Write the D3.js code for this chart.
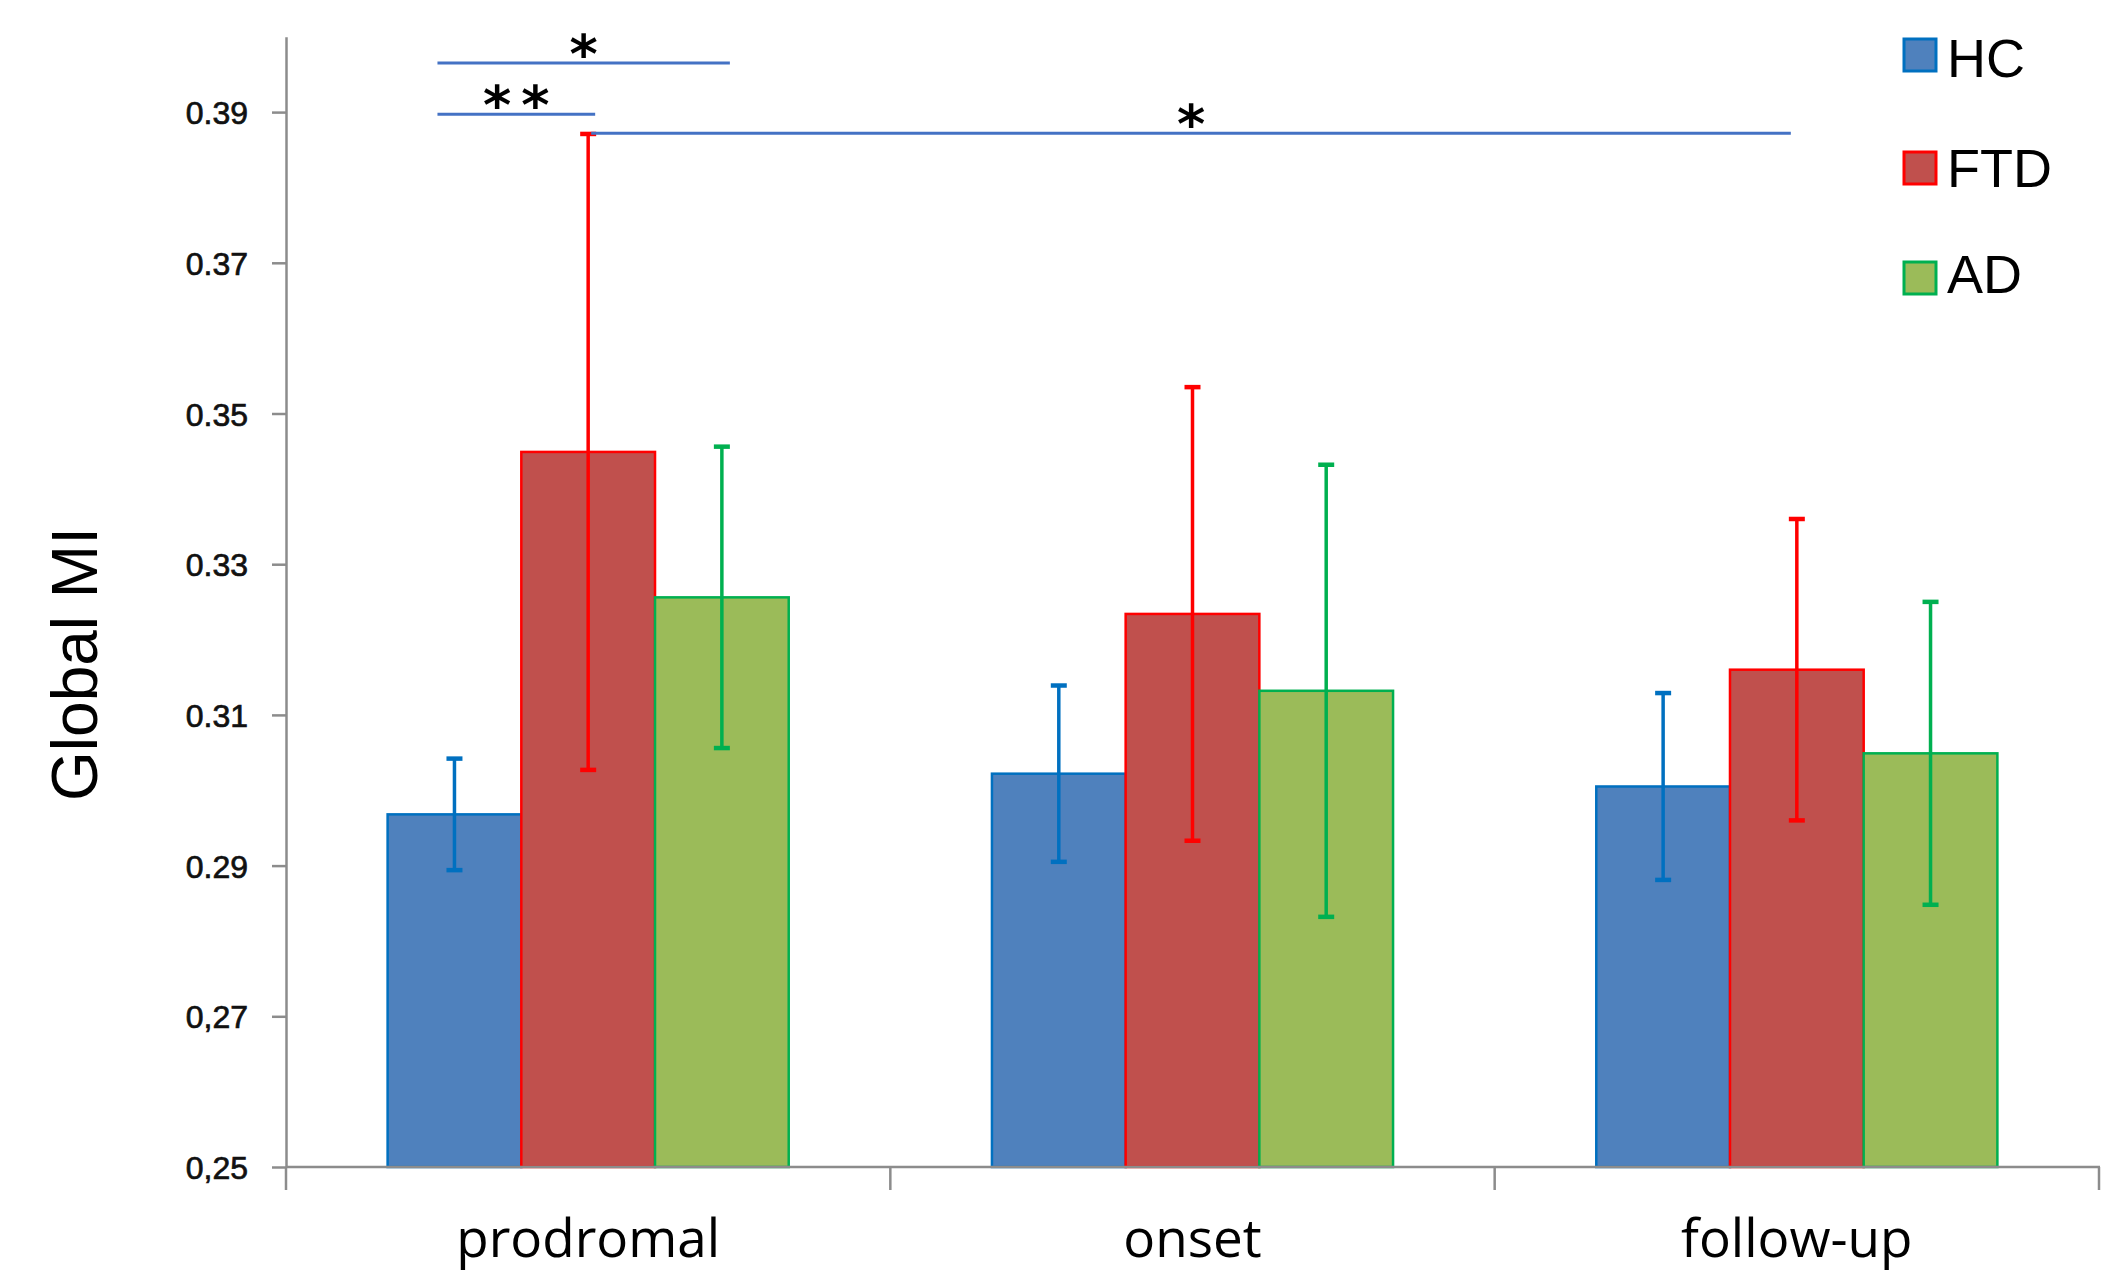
<!DOCTYPE html>
<html>
<head>
<meta charset="utf-8">
<script src="https://cdn.jsdelivr.net/npm/d3@7"></script>
<style>
  html, body { margin: 0; padding: 0; background: #ffffff; }
  svg { display: block; }
</style>
</head>
<body>
<svg id="chart" width="2114" height="1272"></svg>
<script>
// ---------------- data ----------------
const categories = ["prodromal", "onset", "follow-up"];
const groups = ["HC", "FTD", "AD"];

const hcMean  = [0.2968, 0.3022, 0.3005];
const hcErr   = [0.0074, 0.0117, 0.0124];
const ftdMean = [0.3449, 0.3234, 0.3160];
const ftdErr  = [0.0422, 0.0301, 0.0200];
const adMean  = [0.3256, 0.3132, 0.3049];
const adErr   = [0.0200, 0.0300, 0.0201];

const yTickValues = [0.25, 0.27, 0.29, 0.31, 0.33, 0.35, 0.37, 0.39];
const yTickLabels = ["0,25", "0,27", "0.29", "0.31", "0.33", "0.35", "0.37", "0.39"];

const yLabel = "Global MI";

// significance brackets
const sigFromCat   = ["prodromal", "prodromal", "prodromal"];
const sigFromGroup = ["HC", "HC", "FTD"];
const sigToCat     = ["prodromal", "prodromal", "follow-up"];
const sigToGroup   = ["AD", "FTD", "FTD"];
const sigLevel     = [0.3965, 0.3897, 0.3872];
const sigText      = ["*", "**", "*"];

// ---------------- styles ----------------
const fillColors   = { HC: "#4F81BD", FTD: "#C0504D", AD: "#9BBB59" };
const strokeColors = { HC: "#0070C0", FTD: "#FF0000", AD: "#00B050" };

const means = { HC: hcMean, FTD: ftdMean, AD: adMean };
const errs  = { HC: hcErr,  FTD: ftdErr,  AD: adErr };

const rows = [];
categories.forEach((c, i) => {
  groups.forEach(g => rows.push({ cat: c, group: g, mean: means[g][i], err: errs[g][i] }));
});

// ---------------- layout ----------------
const svg = d3.select("#chart");
const axisX0 = 286, axisX1 = 2099, axisY = 1167;

const y = d3.scaleLinear().domain([0.25, 0.40]).range([axisY, axisY - 0.15 * 7535]);
const x0 = d3.scaleBand().domain(categories).range([axisX0, axisX1]).padding(0);
const x1 = d3.scaleBand().domain(groups).range([0, x0.bandwidth()]).paddingInner(0).paddingOuter(0.76);

const axisColor = "#8c8c8c";

// y axis
const yAxis = d3.axisLeft(y)
  .tickValues(yTickValues)
  .tickFormat((d, i) => yTickLabels[i])
  .tickSize(14)
  .tickSizeOuter(0)
  .tickPadding(24);

const gy = svg.append("g").attr("transform", `translate(${axisX0},0)`).call(yAxis);
gy.select(".domain").attr("stroke", axisColor).attr("stroke-width", 2.5);
gy.selectAll(".tick line").attr("stroke", axisColor).attr("stroke-width", 2.5);
gy.selectAll(".tick text")
  .attr("fill", "#111")
  .attr("stroke", "#111")
  .attr("stroke-width", 0.7)
  .style("font-family", "'Liberation Sans', Arial, sans-serif")
  .style("font-size", "32px")
  .attr("dy", "0.36em");

// bars
svg.append("g").selectAll("rect")
  .data(rows)
  .join("rect")
  .attr("x", d => x0(d.cat) + x1(d.group))
  .attr("y", d => y(d.mean))
  .attr("width", x1.bandwidth())
  .attr("height", d => y(0.25) - y(d.mean))
  .attr("fill", d => fillColors[d.group])
  .attr("stroke", d => strokeColors[d.group])
  .attr("stroke-width", 2.5);

// x axis
const gx = svg.append("g");
gx.append("line")
  .attr("x1", axisX0).attr("x2", axisX1 + 1)
  .attr("y1", axisY).attr("y2", axisY)
  .attr("stroke", axisColor).attr("stroke-width", 2.5);
const edges = categories.map(c => x0(c)).concat([x0(categories[categories.length - 1]) + x0.bandwidth()]);
gx.selectAll("line.tk")
  .data(edges)
  .join("line")
  .attr("class", "tk")
  .attr("x1", d => d).attr("x2", d => d)
  .attr("y1", axisY).attr("y2", axisY + 23)
  .attr("stroke", axisColor).attr("stroke-width", 2.5);
gx.selectAll("text")
  .data(categories)
  .join("text")
  .attr("x", d => x0(d) + x0.bandwidth() / 2)
  .attr("y", 1257)
  .attr("text-anchor", "middle")
  .attr("fill", "#000")
  .style("font-family", "'Open Sans', sans-serif")
  .style("font-size", "53px")
  .text(d => d);

// error bars
const eb = svg.append("g");
const capW = 16;
rows.forEach(d => {
  const cx = x0(d.cat) + x1(d.group) + x1.bandwidth() / 2;
  const col = strokeColors[d.group];
  eb.append("line")
    .attr("x1", cx).attr("x2", cx)
    .attr("y1", y(d.mean + d.err)).attr("y2", y(d.mean - d.err))
    .attr("stroke", col).attr("stroke-width", 3.5);
  [d.mean + d.err, d.mean - d.err].forEach(v => {
    eb.append("line")
      .attr("x1", cx - capW / 2).attr("x2", cx + capW / 2)
      .attr("y1", y(v)).attr("y2", y(v))
      .attr("stroke", col).attr("stroke-width", 4.5);
  });
});

// significance brackets
const sg = svg.append("g");
const startOffset = [-17, -17, 3];
const endOffset = [8, 7, -6];
sigText.forEach((t, i) => {
  const xa = x0(sigFromCat[i]) + x1(sigFromGroup[i]) + x1.bandwidth() / 2 + startOffset[i];
  const xb = x0(sigToCat[i]) + x1(sigToGroup[i]) + x1.bandwidth() / 2 + endOffset[i];
  const yy = y(sigLevel[i]);
  sg.append("line")
    .attr("x1", xa).attr("x2", xb)
    .attr("y1", yy).attr("y2", yy)
    .attr("stroke", "#4472C4").attr("stroke-width", 3);
  sg.append("text")
    .attr("x", (xa + xb) / 2 + (t.length > 1 ? 5 : 0))
    .attr("y", yy + 10)
    .attr("text-anchor", "middle")
    .attr("fill", "#000")
    .style("font-family", "'DejaVu Sans', sans-serif")
    .style("font-weight", "bold")
    .style("font-size", "54px")
    .style("letter-spacing", t.length > 1 ? "10px" : "0px")
    .text(t);
});

// y label
svg.append("text")
  .attr("transform", "translate(97,664) rotate(-90)")
  .attr("text-anchor", "middle")
  .attr("fill", "#000")
  .style("font-family", "'Liberation Sans', Arial, sans-serif")
  .style("font-size", "64px")
  .text(yLabel);

// legend
const lg = svg.append("g");
const legendBoxY = [39, 152, 262];
const legendTextY = [77, 187, 293];
groups.forEach((g, i) => {
  lg.append("rect")
    .attr("x", 1904).attr("y", legendBoxY[i])
    .attr("width", 32).attr("height", 32)
    .attr("fill", fillColors[g])
    .attr("stroke", strokeColors[g])
    .attr("stroke-width", 3);
  lg.append("text")
    .attr("x", 1947).attr("y", legendTextY[i])
    .attr("fill", "#000")
    .style("font-family", "'Liberation Sans', Arial, sans-serif")
    .style("font-size", "54px")
    .text(g);
});
</script>
</body>
</html>
